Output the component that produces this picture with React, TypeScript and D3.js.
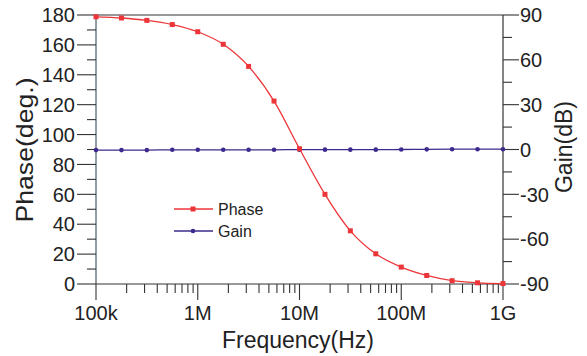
import { useEffect, useRef } from 'react';
import * as d3 from 'd3';

// frequencies sampled every quarter decade, 100k .. 1G
const freqs = [
  1e5, 1.78e5, 3.16e5, 5.62e5, 1e6, 1.78e6, 3.16e6, 5.62e6, 1e7,
  1.78e7, 3.16e7, 5.62e7, 1e8, 1.78e8, 3.16e8, 5.62e8, 1e9,
];
const phase = [
  178.8, 178.0, 176.4, 173.6, 168.8, 160.4, 145.6, 122.4, 90.5,
  60.0, 35.6, 20.2, 11.3, 5.7, 2.2, 0.8, 0.3,
];
const gain = [
  -0.4, -0.4, -0.4, -0.2, -0.2, -0.2, -0.2, -0.2, -0.1,
  -0.1, -0.1, -0.1, 0.0, 0.1, 0.2, 0.2, 0.2,
];
const xTickLabels = ['100k', '1M', '10M', '100M', '1G'];
const phaseTicks = [0, 20, 40, 60, 80, 100, 120, 140, 160, 180];
const gainTicks = [-90, -60, -30, 0, 30, 60, 90];

export default function App() {
  const svgRef = useRef<SVGSVGElement>(null);

  useEffect(() => {
    if (!svgRef.current) return;
    const width = 587;
    const height = 356;
    const left = 96;
    const right = 503;
    const top = 15;
    const bottom = 284;
    const font = 'Liberation Sans, Arial, sans-serif';
    const ink = '#222';
    const axisColor = '#333';
    const red = '#ec3538';
    const purple = '#3e2a8e';

    const svg = d3.select(svgRef.current);
    svg.selectAll('*').remove();
    svg.attr('width', width).attr('height', height);

    const x = d3.scaleLog().domain([1e5, 1e9]).range([left, right]);
    const yP = d3.scaleLinear().domain([0, 180]).range([bottom, top]);
    const yG = d3.scaleLinear().domain([-90, 90]).range([bottom, top]);

    const g = svg.append('g');

    // frame lines
    g.append('line').attr('x1', left).attr('x2', right).attr('y1', top).attr('y2', top)
      .attr('stroke', axisColor).attr('stroke-width', 1.2);
    g.append('line').attr('x1', left).attr('x2', right).attr('y1', bottom).attr('y2', bottom)
      .attr('stroke', axisColor).attr('stroke-width', 1.2);
    g.append('line').attr('x1', left).attr('x2', left).attr('y1', top).attr('y2', bottom)
      .attr('stroke', '#4a5a66').attr('stroke-width', 1.2);
    g.append('line').attr('x1', right).attr('x2', right).attr('y1', top).attr('y2', bottom)
      .attr('stroke', axisColor).attr('stroke-width', 1.2);

    // left phase axis ticks
    d3.range(0, 181, 10).forEach((v) => {
      const major = v % 20 === 0;
      g.append('line')
        .attr('x1', left - (major ? 19 : 9)).attr('x2', left)
        .attr('y1', yP(v)).attr('y2', yP(v))
        .attr('stroke', axisColor).attr('stroke-width', 1.1);
    });
    phaseTicks.forEach((v) => {
      g.append('text')
        .attr('x', 75).attr('y', yP(v)).attr('dy', '0.36em')
        .attr('text-anchor', 'end').attr('font-family', font).attr('font-size', 20)
        .attr('fill', ink).text(String(v));
    });

    // right gain axis ticks
    d3.range(-90, 91, 15).forEach((v) => {
      const major = v % 30 === 0;
      g.append('line')
        .attr('x1', right).attr('x2', right + (major ? 16 : 9))
        .attr('y1', yG(v)).attr('y2', yG(v))
        .attr('stroke', axisColor).attr('stroke-width', 1.1);
    });
    gainTicks.forEach((v) => {
      g.append('text')
        .attr('x', 520).attr('y', yG(v)).attr('dy', '0.36em')
        .attr('text-anchor', 'start').attr('font-family', font).attr('font-size', 20)
        .attr('fill', ink).text(String(v));
    });

    // bottom log ticks
    for (let dec = 5; dec <= 9; dec++) {
      const base = Math.pow(10, dec);
      g.append('line')
        .attr('x1', x(base)).attr('x2', x(base)).attr('y1', bottom).attr('y2', bottom + 16)
        .attr('stroke', axisColor).attr('stroke-width', 1.1);
      if (dec < 9) {
        for (let m = 2; m <= 9; m++) {
          g.append('line')
            .attr('x1', x(base * m)).attr('x2', x(base * m))
            .attr('y1', bottom).attr('y2', bottom + 9)
            .attr('stroke', axisColor).attr('stroke-width', 1.1);
        }
      }
    }
    xTickLabels.forEach((t, i) => {
      g.append('text')
        .attr('x', x(Math.pow(10, 5 + i))).attr('y', 320)
        .attr('text-anchor', 'middle').attr('font-family', font).attr('font-size', 20)
        .attr('fill', ink).text(t);
    });

    // axis titles
    g.append('text')
      .attr('x', 298).attr('y', 348)
      .attr('text-anchor', 'middle').attr('font-family', font).attr('font-size', 23)
      .attr('fill', ink).text('Frequency(Hz)');
    g.append('text')
      .attr('transform', 'translate(33,150) rotate(-90)')
      .attr('text-anchor', 'middle').attr('font-family', font).attr('font-size', 24)
      .attr('textLength', 145).attr('lengthAdjust', 'spacingAndGlyphs')
      .attr('fill', ink).text('Phase(deg.)');
    g.append('text')
      .attr('transform', 'translate(572,147) rotate(-90)')
      .attr('text-anchor', 'middle').attr('font-family', font).attr('font-size', 23)
      .attr('fill', ink).text('Gain(dB)');

    // series
    const phaseData = freqs.map((f, i) => [f, phase[i]] as [number, number]);
    const gainData = freqs.map((f, i) => [f, gain[i]] as [number, number]);

    const linePhase = d3.line<[number, number]>()
      .x((d) => x(d[0])).y((d) => yP(d[1])).curve(d3.curveMonotoneX);
    const lineGain = d3.line<[number, number]>()
      .x((d) => x(d[0])).y((d) => yG(d[1])).curve(d3.curveMonotoneX);

    g.append('path').attr('d', lineGain(gainData)).attr('fill', 'none')
      .attr('stroke', purple).attr('stroke-width', 1.3);
    g.selectAll('circle.gain').data(gainData).enter().append('circle')
      .attr('cx', (d) => x(d[0])).attr('cy', (d) => yG(d[1])).attr('r', 2.3)
      .attr('fill', purple);

    g.append('path').attr('d', linePhase(phaseData)).attr('fill', 'none')
      .attr('stroke', red).attr('stroke-width', 1.3);
    g.selectAll('rect.phase').data(phaseData).enter().append('rect')
      .attr('x', (d) => x(d[0]) - 2.5).attr('y', (d) => yP(d[1]) - 2.5)
      .attr('width', 5).attr('height', 5).attr('fill', red);

    // legend
    const legend = [
      { name: 'Phase', color: red, y: 209, square: true },
      { name: 'Gain', color: purple, y: 231, square: false },
    ];
    legend.forEach((l) => {
      g.append('line').attr('x1', 174).attr('x2', 213).attr('y1', l.y).attr('y2', l.y)
        .attr('stroke', l.color).attr('stroke-width', 1.3);
      if (l.square) {
        g.append('rect').attr('x', 190.5).attr('y', l.y - 2.5).attr('width', 5).attr('height', 5)
          .attr('fill', l.color);
      } else {
        g.append('circle').attr('cx', 193).attr('cy', l.y).attr('r', 2.3).attr('fill', l.color);
      }
      g.append('text')
        .attr('x', 218).attr('y', l.y).attr('dy', '0.36em')
        .attr('font-family', font).attr('font-size', 16)
        .attr('fill', ink).text(l.name);
    });
  }, []);

  return (
    <svg ref={svgRef} style={{ position: 'absolute', left: 0, top: 0, background: '#fff' }} />
  );
}
